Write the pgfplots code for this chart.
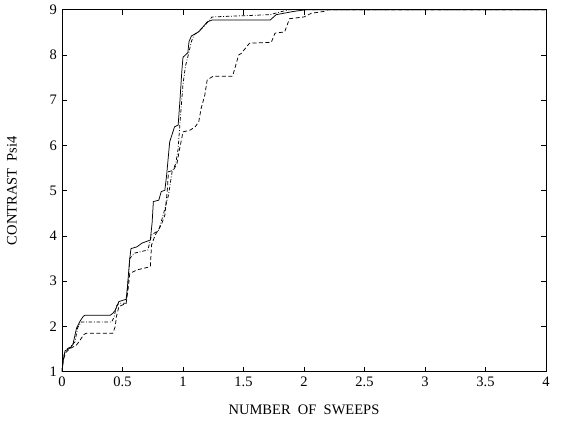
\documentclass[border=0pt]{standalone}
\usepackage{fontspec}
\setmainfont{Liberation Serif}
\usepackage{pgfplots}
\pgfplotsset{compat=1.18}
\begin{document}
\fontsize{14.5bp}{17bp}\selectfont
\begin{tikzpicture}
\begin{axis}[
  scale only axis,
  width=484bp, height=362bp,
  xmin=0, xmax=4, ymin=1, ymax=9,
  xtick={0,0.5,...,4},
  ytick={1,2,...,9},
  xticklabels={0,0.5,1,1.5,2,2.5,3,3.5,4},
  tick align=inside,
  major tick length=5bp,
  tick style={black, line width=0.6bp},
  axis line style={line width=0.7bp},
  /pgf/number format/assume math mode=true,
  tick label style={font=\fontsize{14.5bp}{17bp}\selectfont},
  label style={font=\fontsize{14.5bp}{17bp}\selectfont},
  xlabel={NUMBER\ \ OF\ \ SWEEPS},
  ylabel={CONTRAST\ \ Psi4},
  xlabel style={at={(axis description cs:0.5,0)}, anchor=center, yshift=-38bp},
  ylabel style={at={(axis description cs:0,0.5)}, anchor=center, yshift=50bp},
]
% solid
\addplot[black, no marks, line width=0.75bp, solid] coordinates {
(0,1)(0.01,1.25)(0.025,1.46)(0.066,1.52)(0.09,1.6)(0.12,1.96)(0.15,2.12)(0.175,2.22)(0.19,2.25)(0.40,2.25)(0.42,2.29)(0.44,2.36)(0.47,2.55)(0.53,2.6)(0.54,2.85)(0.56,3.5)(0.57,3.72)(0.62,3.76)(0.66,3.84)(0.73,3.91)(0.745,4.3)(0.755,4.76)(0.80,4.79)(0.82,4.98)(0.85,5.01)(0.865,5.35)(0.89,6.08)(0.93,6.41)(0.96,6.45)(0.975,7.0)(0.99,7.63)(1.0,7.95)(1.02,8.0)(1.04,8.05)(1.05,8.3)(1.07,8.42)(1.13,8.51)(1.2,8.73)(1.24,8.77)(1.72,8.77)(1.77,8.89)(1.91,8.96)(2.02,9)(4,9)
};
% dash-dot
\addplot[black, no marks, line width=0.75bp, dash pattern=on 3.5bp off 1.8bp on 0.8bp off 1.8bp] coordinates {
(0,1)(0.01,1.3)(0.03,1.48)(0.07,1.55)(0.107,1.66)(0.13,1.98)(0.16,2.1)(0.41,2.1)(0.43,2.2)(0.45,2.45)(0.47,2.51)(0.53,2.51)(0.55,3.1)(0.56,3.5)(0.60,3.62)(0.71,3.69)(0.74,4.02)(0.80,4.13)(0.84,4.5)(0.88,4.9)(0.91,5.42)(0.94,5.6)(0.96,5.93)(0.975,6.5)(1.0,7.35)(1.02,7.75)(1.04,7.96)(1.07,8.3)(1.09,8.44)(1.17,8.62)(1.24,8.84)(1.72,8.89)(1.8,8.95)(1.88,9)(4,9)
};
% dashed
\addplot[black, no marks, line width=0.75bp, dash pattern=on 4bp off 2.5bp] coordinates {
(0,1)(0.01,1.25)(0.03,1.42)(0.06,1.5)(0.12,1.59)(0.15,1.7)(0.18,1.82)(0.2,1.85)(0.42,1.85)(0.44,2.0)(0.45,2.22)(0.47,2.44)(0.53,2.51)(0.55,2.9)(0.56,3.17)(0.62,3.25)(0.73,3.32)(0.74,3.8)(0.77,4.02)(0.82,4.24)(0.85,4.46)(0.87,5.0)(0.88,5.42)(0.92,5.45)(0.95,5.6)(0.97,5.9)(0.99,6.16)(1.0,6.3)(1.06,6.34)(1.1,6.41)(1.13,6.52)(1.15,6.82)(1.18,7.11)(1.2,7.45)(1.25,7.53)(1.41,7.53)(1.46,8.0)(1.48,8.03)(1.55,8.26)(1.73,8.28)(1.76,8.48)(1.84,8.51)(1.88,8.8)(2.0,8.84)(2.06,8.92)(2.16,8.96)(2.2,9)(4,9)
};
\end{axis}
\useasboundingbox (-62bp,-56bp) rectangle (502bp,370bp);
\end{tikzpicture}
\end{document}
